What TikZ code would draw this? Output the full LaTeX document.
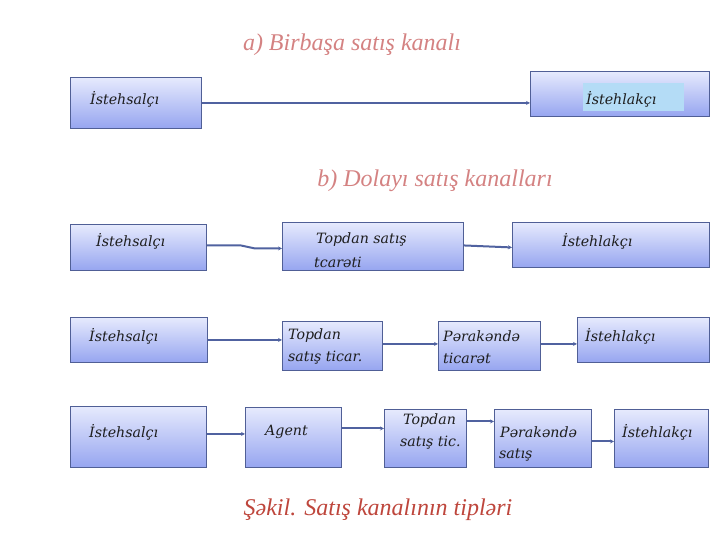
\documentclass[tikz,border=0pt]{standalone}
\usepackage{fontspec}
\setmainfont{Liberation Serif}
\newfontfamily\boxfont{DejaVu Serif}
\usetikzlibrary{arrows.meta}
\definecolor{boxtop}{RGB}{230,234,253}
\definecolor{boxbot}{RGB}{150,165,240}
\definecolor{boxline}{RGB}{80,95,150}
\definecolor{arrcol}{RGB}{80,98,160}
\definecolor{titlecol}{RGB}{212,130,130}
\definecolor{capcol}{RGB}{190,70,60}
\definecolor{innerblue}{RGB}{180,220,246}
\definecolor{txt}{RGB}{30,30,30}
\tikzset{
  box/.style={draw=boxline, line width=0.9pt, top color=boxtop, bottom color=boxbot, anchor=north west, inner sep=0pt},
  lbl/.style={anchor=west, inner sep=0pt, text=txt, font=\boxfont\itshape\fontsize{14.2}{16}\selectfont},
  ttl/.style={inner sep=0pt, text=titlecol, font=\itshape\fontsize{24}{26}\selectfont},
  arr/.style={draw=arrcol, line width=2pt, -{Stealth[length=4pt,width=4pt]}},
}
\begin{document}
\begin{tikzpicture}[x=1pt,y=-1pt]
\useasboundingbox (0,0) rectangle (720,540);
% titles
\node[ttl] (ta) at (352,45) {a) Birbaşa satış kanalı};
\node[ttl] (tb) at (435,181) {b) Dolayı satış kanalları};
\node[inner sep=0pt, text=capcol, font=\itshape\fontsize{24}{26}\selectfont] (cap) at (378,510) {Şəkil. Satış kanalının tipləri};
% row a
\node[box, minimum width=131, minimum height=51] (a1) at (70,77) {};
\node[box, minimum width=179, minimum height=45] (a2) at (530,71) {};
\node[fill=innerblue, anchor=north west, minimum width=101, minimum height=28, inner sep=0pt] (a2in) at (583,83) {};
\node[lbl] (la1) at (90,99) {İstehsalçı};
\node[lbl] (la2) at (586,99) {İstehlakçı};
\draw[arr] (a1.east) -- (a1.east -| a2.west);
% row b1
\node[box, minimum width=136, minimum height=46] (b1) at (70,224) {};
\node[box, minimum width=181, minimum height=48] (b2) at (282,222) {};
\node[box, minimum width=197, minimum height=45] (b3) at (512,222) {};
\node[lbl] (lb1) at (96,241) {İstehsalçı};
\node[lbl] (lb2) at (316,240) {Topdan satış};
\node[lbl] (lb2b) at (314,262) {tcarəti};
\node[lbl] (lb3) at (562,241) {İstehlakçı};
\draw[arr] ([yshift=2pt]b1.east) -- ++(34,0) -- ++(14,3) -- ([yshift=-1pt]b1.east -| b2.west);
\draw[arr] ([yshift=1pt]b2.east) -- ([yshift=-1pt]b2.east -| b3.west);
% row b2
\node[box, minimum width=137, minimum height=45] (c1) at (70,317) {};
\node[box, minimum width=100, minimum height=49] (c2) at (282,321) {};
\node[box, minimum width=102, minimum height=49] (c3) at (438,321) {};
\node[box, minimum width=132, minimum height=45] (c4) at (577,317) {};
\node[lbl] (lc1) at (89,336) {İstehsalçı};
\node[lbl] (lc2) at (288,336) {Topdan};
\node[lbl] (lc2b) at (288,358) {satış ticar.};
\node[lbl] (lc3) at (443,336) {Pərakəndə};
\node[lbl] (lc3b) at (443,358) {ticarət};
\node[lbl] (lc4) at (585,336) {İstehlakçı};
\draw[arr] (c1.east) -- (c1.east -| c2.west);
\draw[arr] ([yshift=2pt]c2.east) -- ([yshift=2pt]c2.east -| c3.west);
\draw[arr] ([yshift=2pt]c3.east) -- ([yshift=2pt]c3.east -| c4.west);
% row b3
\node[box, minimum width=136, minimum height=61] (d1) at (70,406) {};
\node[box, minimum width=96, minimum height=60] (d2) at (245,407) {};
\node[box, minimum width=82, minimum height=58] (d3) at (384,409) {};
\node[box, minimum width=97, minimum height=58] (d4) at (494,409) {};
\node[box, minimum width=94, minimum height=58] (d5) at (614,409) {};
\node[lbl] (ld1) at (89,432) {İstehsalçı};
\node[lbl] (ld2) at (265,432) {Agent};
\node[lbl] (ld3) at (403,421) {Topdan};
\node[lbl] (ld3b) at (400,443) {satış tic.};
\node[lbl] (ld4) at (500,432) {Pərakəndə};
\node[lbl] (ld4b) at (499,455) {satış};
\node[lbl] (ld5) at (622,432) {İstehlakçı};
\draw[arr] ([yshift=3pt]d1.east) -- ([yshift=3pt]d1.east -| d2.west);
\draw[arr] ([yshift=9pt]d2.east) -- ([yshift=9pt]d2.east -| d3.west);
\draw[arr] ([yshift=17pt]d3.east) -- ([yshift=17pt]d3.east -| d4.west);
\draw[arr] ([yshift=-3pt]d4.east) -- ([yshift=-3pt]d4.east -| d5.west);
\end{tikzpicture}
\end{document}
